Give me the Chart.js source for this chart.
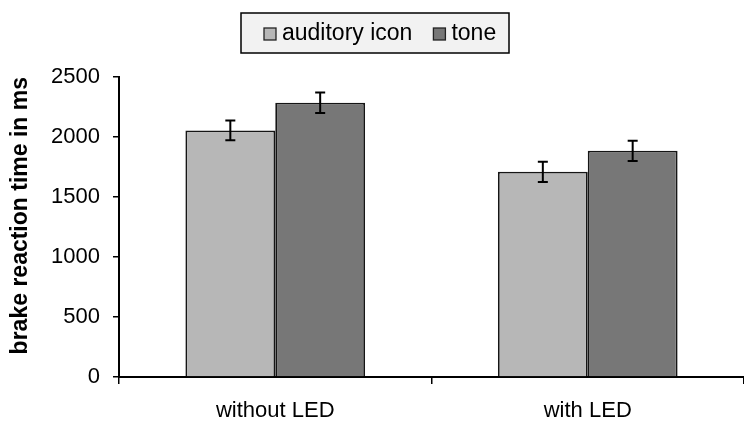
<!DOCTYPE html>
<html>
<head>
<meta charset="utf-8">
<script src="https://cdn.jsdelivr.net/npm/chart.js@4.4.0/dist/chart.umd.min.js"></script>
<style>
  html, body { margin: 0; padding: 0; background: #fff; }
  #wrap { width: 744px; height: 422px; }
</style>
</head>
<body>
<div id="wrap"><canvas id="myChart" width="744" height="422"></canvas></div>
<script>
let kategori = ["without LED", "with LED"];
let iconMean = [2055, 1710];
let iconErr = [83, 84];
let toneMean = [2285, 1885];
let toneErr = [85, 84];
let yTicks = [0, 500, 1000, 1500, 2000, 2500];

// draws the error bars on top of every bar
const errorBars = {
    id: "errorBars",
    afterDatasetsDraw(chart) {
        const ctx = chart.ctx;
        const y = chart.scales.y;
        chart.data.datasets.forEach((ds, i) => {
            chart.getDatasetMeta(i).data.forEach((bar, j) => {
                let v = ds.data[j];
                let e = ds.errors[j];
                let top = y.getPixelForValue(v + e);
                let bot = y.getPixelForValue(v - e);
                ctx.save();
                ctx.strokeStyle = "#000";
                ctx.lineWidth = 2;
                ctx.beginPath();
                ctx.moveTo(bar.x, top);
                ctx.lineTo(bar.x, bot);
                ctx.moveTo(bar.x - 5, top);
                ctx.lineTo(bar.x + 5, top);
                ctx.moveTo(bar.x - 5, bot);
                ctx.lineTo(bar.x + 5, bot);
                ctx.stroke();
                ctx.restore();
            });
        });
    }
};

// legend in a framed box, like the original
const boxLegend = {
    id: "boxLegend",
    afterDraw(chart) {
        const ctx = chart.ctx;
        const left = 241, top = 13, w = 268, h = 40;
        ctx.save();
        ctx.fillStyle = "#f2f2f2";
        ctx.fillRect(left, top, w, h);
        ctx.strokeStyle = "#000";
        ctx.lineWidth = 1.5;
        ctx.strokeRect(left, top, w, h);
        ctx.font = "23px 'Liberation Sans', Arial, sans-serif";
        ctx.textBaseline = "middle";
        let x = left + 23;
        const cy = top + h / 2 + 1;
        chart.data.datasets.forEach((ds) => {
            ctx.fillStyle = ds.backgroundColor;
            ctx.fillRect(x, cy - 6, 12, 12);
            ctx.strokeStyle = "#222";
            ctx.lineWidth = 1.3;
            ctx.strokeRect(x, cy - 6, 12, 12);
            ctx.fillStyle = "#000";
            ctx.fillText(ds.label, x + 18, cy);
            x += 18 + ctx.measureText(ds.label).width + 21;
        });
        ctx.restore();
    }
};

const data = {
    labels: kategori,
    datasets: [
        {
            label: "auditory icon",
            backgroundColor: "#b7b7b7",
            borderColor: "#151515",
            borderWidth: 1.8,
            data: iconMean,
            errors: iconErr
        },
        {
            label: "tone",
            backgroundColor: "#777777",
            borderColor: "#151515",
            borderWidth: 1.8,
            data: toneMean,
            errors: toneErr
        }
    ]
};

new Chart(document.getElementById("myChart"), {
    type: "bar",
    data: data,
    options: {
        responsive: false,
        animation: false,
        layout: { padding: { top: 77, right: 0, bottom: 0, left: 0 } },
        datasets: { bar: { categoryPercentage: 0.575, barPercentage: 1 } },
        plugins: {
            legend: { display: false },
            tooltip: { enabled: false }
        },
        scales: {
            x: {
                grid: { display: true, drawOnChartArea: false, color: "#000", tickLength: 7, lineWidth: 1.5, offset: true },
                border: { color: "#000", width: 2 },
                ticks: { color: "#000", padding: 14, font: { family: "'Liberation Sans', Arial", size: 22 } },
                afterFit(scale) { scale.height = 45; }
            },
            y: {
                min: 0,
                max: 2500,
                afterBuildTicks(scale) { scale.ticks = yTicks.map(v => ({ value: v })); },
                grid: { display: true, drawOnChartArea: false, color: "#000", tickLength: 6, lineWidth: 1.5 },
                border: { color: "#000", width: 2 },
                ticks: {
                    color: "#000",
                    padding: 13,
                    font: { family: "'Liberation Sans', Arial", size: 22 },
                    callback: (v) => String(v)
                },
                title: {
                    display: true,
                    text: "brake reaction time in ms",
                    align: "end",
                    color: "#000",
                    padding: { top: 7, bottom: 0 },
                    font: { family: "'Liberation Sans', Arial", size: 23, weight: "bold" }
                },
                afterFit(scale) { scale.width = 119; }
            }
        }
    },
    plugins: [errorBars, boxLegend]
});
</script>
</body>
</html>
